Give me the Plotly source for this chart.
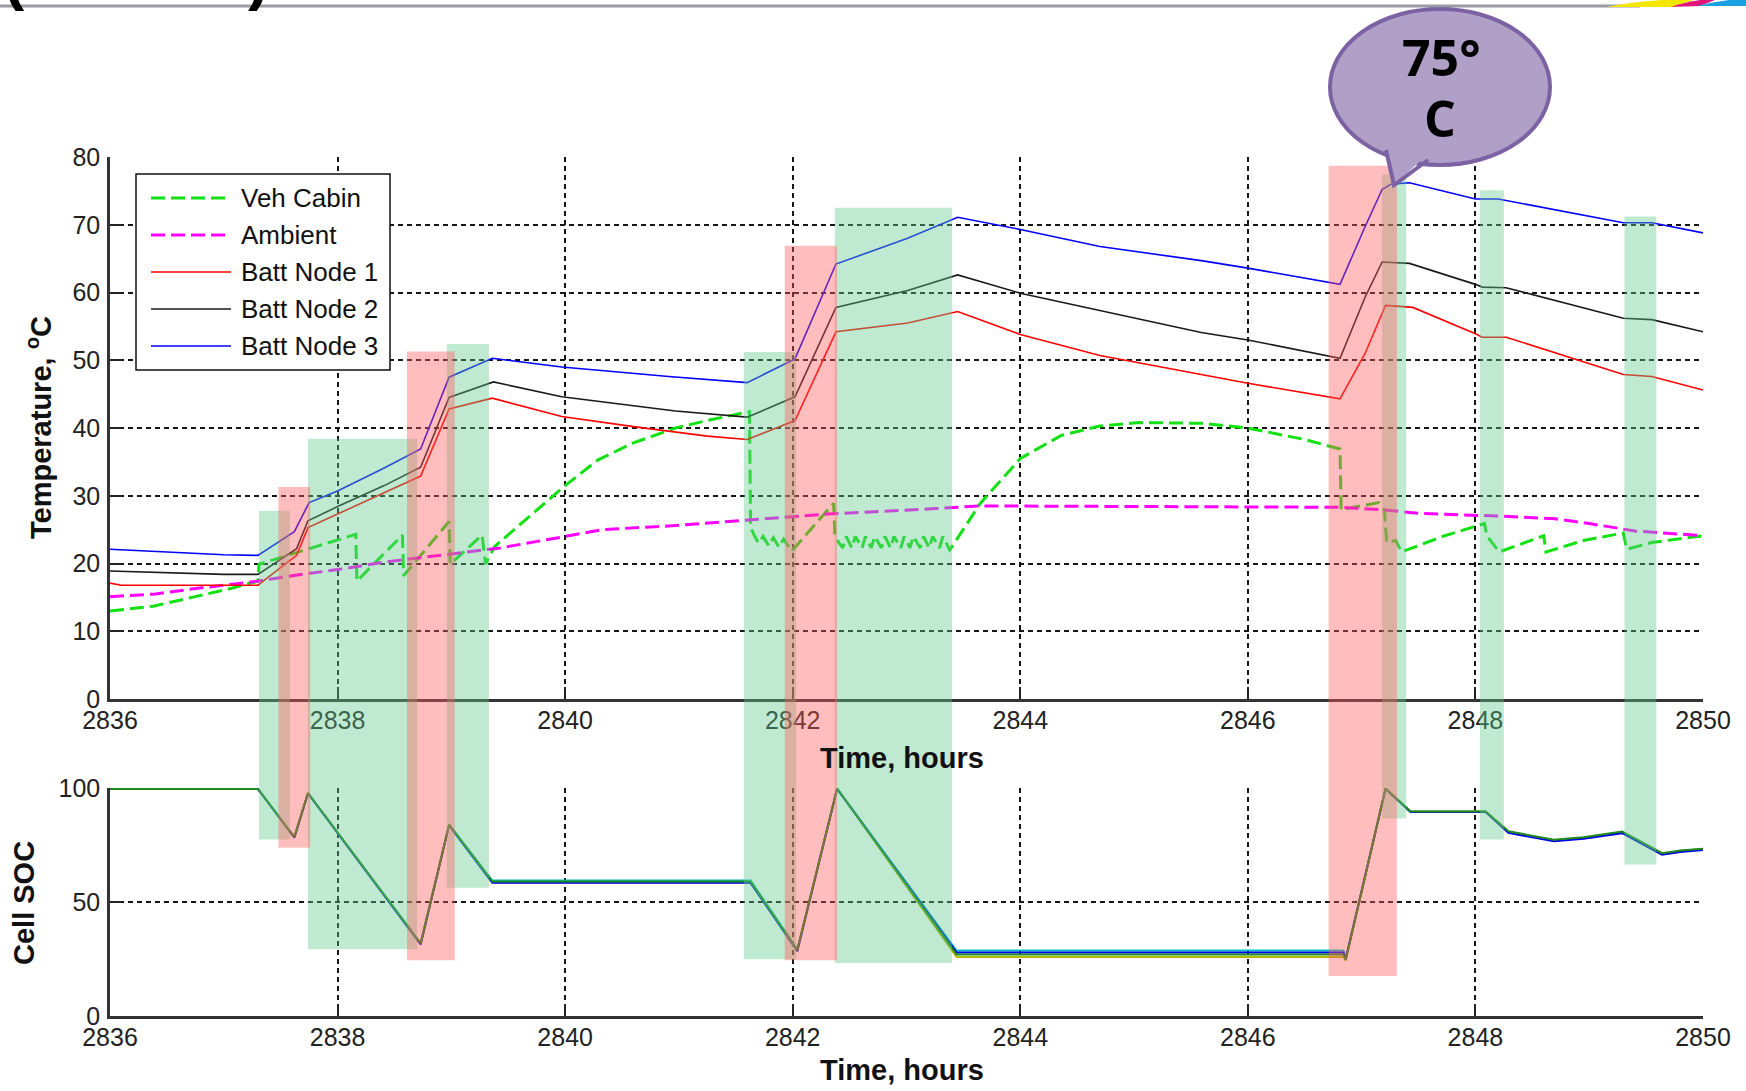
import plotly.graph_objects as go

# ---------------- data ----------------
x_ticks = [2836, 2838, 2840, 2842, 2844, 2846, 2848, 2850]
temp_ticks = [0, 10, 20, 30, 40, 50, 60, 70, 80]
soc_ticks = [0, 50, 100]

series_names = ["Veh Cabin", "Ambient", "Batt Node 1", "Batt Node 2", "Batt Node 3"]

cabin_t = [2836.0, 2836.38, 2836.72, 2837.06, 2837.30, 2837.31, 2838.16, 2838.17, 2838.57, 2838.58,
           2838.98, 2838.99, 2839.27, 2839.30, 2839.38, 2839.69, 2840.0, 2840.29, 2840.6, 2840.97,
           2841.3, 2841.62, 2841.63, 2841.66, 2841.70, 2841.74, 2841.79, 2841.83, 2841.88, 2841.92,
           2841.99, 2842.36, 2842.37, 2842.40, 2842.44, 2842.47, 2842.52, 2842.55, 2842.61, 2842.64,
           2842.69, 2842.72, 2842.78, 2842.81, 2842.86, 2842.89, 2842.95, 2842.98, 2843.03, 2843.06,
           2843.12, 2843.15, 2843.20, 2843.23, 2843.29, 2843.32, 2843.38, 2843.65, 2844.0, 2844.36,
           2844.70, 2845.04, 2845.59, 2846.0, 2846.5, 2846.81, 2846.82, 2846.93, 2847.15, 2847.20,
           2847.22, 2847.30, 2847.35, 2847.73, 2848.08, 2848.10, 2848.21, 2848.60, 2848.62, 2848.95,
           2849.30, 2849.33, 2849.55, 2850.0]
cabin_v = [13.0, 13.7, 15.0, 16.3, 17.4, 19.9, 24.3, 17.4, 24.2, 18.2,
           26.2, 19.9, 24.2, 19.9, 22.5, 27.0, 31.5, 35.3, 37.8, 40.0,
           41.3, 42.4, 25.4, 24.2, 23.0, 24.0, 22.6, 23.8, 22.4, 23.6,
           21.8, 28.9, 24.4, 23.2, 22.3, 24.0, 22.3, 24.0, 22.3, 24.0,
           22.3, 24.0, 22.3, 24.0, 22.3, 24.0, 22.3, 24.0, 22.3, 24.0,
           22.3, 24.0, 22.3, 24.0, 22.3, 24.0, 22.0, 28.9, 35.5, 38.9,
           40.3, 40.8, 40.7, 40.0, 38.3, 36.9, 27.9, 28.3, 29.0, 27.9,
           23.1, 23.4, 21.7, 24.1, 25.9, 24.1, 21.7, 24.1, 21.7, 23.4,
           24.5, 22.1, 23.1, 24.1]

ambient_t = [2836.0, 2836.4, 2836.75, 2837.1, 2837.3, 2837.6, 2838.0, 2838.41, 2838.75, 2839.09,
             2839.43, 2839.97, 2840.33, 2840.97, 2841.6, 2842.3, 2843.25, 2843.65, 2846.8, 2847.2,
             2847.5, 2848.2, 2848.7, 2849.0, 2849.4, 2850.0]
ambient_v = [15.1, 15.5, 16.3, 17.0, 17.4, 18.2, 19.1, 20.2, 20.9, 21.5,
             22.3, 23.9, 25.0, 25.6, 26.4, 27.3, 28.1, 28.5, 28.3, 27.9,
             27.4, 27.0, 26.6, 25.9, 24.8, 24.1]

node1_t = [2836.0, 2836.1, 2837.0, 2837.30, 2837.64, 2837.74, 2838.0, 2838.41, 2838.73, 2838.98,
           2839.36, 2839.97, 2840.6, 2841.25, 2841.60, 2842.02, 2842.38, 2843.01, 2843.45, 2844.0,
           2844.70, 2845.59, 2846.0, 2846.81, 2847.03, 2847.21, 2847.45, 2848.0, 2848.06, 2848.27,
           2849.30, 2849.55, 2850.0]
node1_v = [17.1, 16.8, 16.8, 16.8, 21.2, 25.3, 27.3, 30.4, 32.9, 42.8,
           44.4, 41.7, 40.2, 38.8, 38.3, 41.1, 54.2, 55.5, 57.2, 53.8,
           50.7, 47.9, 46.6, 44.3, 51.0, 58.1, 57.8, 53.9, 53.4, 53.4,
           47.9, 47.6, 45.6]

node2_t = [2836.0, 2836.5, 2837.0, 2837.30, 2837.64, 2837.74, 2838.0, 2838.41, 2838.73, 2838.98,
           2839.37, 2839.97, 2840.97, 2841.60, 2842.02, 2842.38, 2843.01, 2843.45, 2844.0, 2845.59,
           2846.0, 2846.81, 2847.03, 2847.18, 2847.42, 2848.0, 2848.06, 2848.27, 2849.30, 2849.55,
           2850.0]
node2_v = [18.9, 18.7, 18.4, 18.4, 22.2, 26.3, 28.4, 31.5, 34.2, 44.5,
           46.8, 44.6, 42.5, 41.6, 44.6, 57.8, 60.3, 62.6, 59.9, 54.1,
           53.0, 50.3, 59.3, 64.5, 64.3, 61.2, 60.8, 60.7, 56.2, 56.0,
           54.2]

node3_t = [2836.0, 2836.5, 2837.0, 2837.30, 2837.62, 2837.75, 2838.0, 2838.41, 2838.73, 2838.98,
           2839.36, 2839.97, 2840.91, 2841.60, 2842.02, 2842.38, 2843.01, 2843.45, 2844.0, 2844.70,
           2845.59, 2846.0, 2846.81, 2847.03, 2847.18, 2847.26, 2847.42, 2848.0, 2848.2, 2849.30,
           2849.55, 2850.0]
node3_v = [22.1, 21.7, 21.3, 21.2, 24.7, 29.0, 30.7, 34.1, 36.9, 47.5,
           50.3, 49.0, 47.6, 46.7, 50.2, 64.2, 68.0, 71.1, 69.3, 66.8,
           64.7, 63.6, 61.2, 69.7, 75.2, 76.0, 76.2, 73.8, 73.8, 70.3,
           70.3, 68.8]

soc_t = [2836.0, 2837.30, 2837.62, 2837.74, 2838.73, 2838.98, 2839.36, 2841.63, 2842.04, 2842.39,
         2843.44, 2846.84, 2846.86, 2847.21, 2847.43, 2848.09, 2848.29, 2848.45, 2848.69, 2848.95,
         2849.29, 2849.64, 2849.80, 2850.0]
soc_cyan = [99.6, 99.6, 78.6, 97.8, 32.0, 84.0, 59.4, 59.4, 29.2, 99.8,
            28.7, 28.7, 25.2, 99.8, 89.7, 89.7, 80.7, 79.3, 77.0, 78.1,
            80.6, 71.1, 72.3, 73.1]
soc_olive = [99.6, 99.6, 78.5, 97.8, 31.6, 83.8, 58.7, 58.7, 28.6, 99.8,
             25.9, 25.9, 24.4, 99.8, 89.7, 89.7, 80.8, 79.4, 77.1, 78.2,
             80.7, 71.2, 72.4, 73.2]
soc_blue = [99.6, 99.6, 78.2, 97.6, 31.4, 83.6, 58.4, 58.4, 28.4, 99.6,
            27.9, 27.9, 25.0, 99.6, 89.5, 89.5, 80.3, 78.9, 76.6, 77.7,
            80.2, 70.7, 71.9, 72.8]
soc_green = [99.6, 99.6, 78.4, 97.8, 31.8, 83.9, 59.0, 59.0, 28.9, 99.8,
             27.0, 27.0, 24.6, 99.8, 89.7, 89.7, 81.0, 79.6, 77.3, 78.4,
             80.9, 71.4, 72.6, 73.4]

# highlighted periods (start h, end h, top temp, bottom SOC)
green_start = [2837.31, 2837.74, 2838.96, 2841.57, 2842.37, 2847.18, 2848.04, 2849.31]
green_end = [2837.58, 2838.70, 2839.33, 2842.03, 2843.40, 2847.39, 2848.25, 2849.59]
green_top = [27.8, 38.4, 52.4, 51.2, 72.5, 77.4, 75.1, 71.2]
green_bottom = [77.4, 29.3, 56.3, 24.9, 23.3, 86.6, 77.4, 66.5]
red_start = [2837.48, 2838.61, 2841.93, 2846.71]
red_end = [2837.76, 2839.03, 2842.39, 2847.31]
red_top = [31.3, 51.3, 66.9, 78.7]
red_bottom = [73.8, 24.5, 24.5, 17.5]

callout_text = ["75°", "C"]

# ---------------- layout geometry ----------------
W, H = 1746, 1091
ML, MR, MT, MB = 110, 43, 0, 0
PW, PH = W - ML - MR, H - MT - MB
TOP_PX = (157, 699)      # y pixel of 80 and 0
BOT_PX = (788, 1016)     # y pixel of 100 and 0


def pxx(x):
    return (x - ML) / PW


def pxy(y):
    return 1 - (y - MT) / PH


top_dom = [pxy(TOP_PX[1]), pxy(TOP_PX[0])]
bot_dom = [pxy(BOT_PX[1]), pxy(BOT_PX[0])]
T_RANGE = [0, 80]
S_RANGE = [0, 100]


def temp_to_paper(v):
    return top_dom[0] + (v - T_RANGE[0]) / (T_RANGE[1] - T_RANGE[0]) * (top_dom[1] - top_dom[0])


def soc_to_paper(v):
    return bot_dom[0] + (v - S_RANGE[0]) / (S_RANGE[1] - S_RANGE[0]) * (bot_dom[1] - bot_dom[0])


TICK_FONT = dict(family="Liberation Sans Narrow, Liberation Sans, Arial", size=25, color="#222222")
TITLE_FONT = dict(family="Liberation Sans, Arial", size=29, color="#111111")
LEG_FONT = dict(family="Liberation Sans, Arial", size=26, color="#111111")

styles = {
    "Veh Cabin": dict(color="#11e011", width=3, dash="14px,6px"),
    "Ambient": dict(color="#ff00ff", width=3, dash="14px,6px"),
    "Batt Node 1": dict(color="#ff0000", width=1.6, dash="solid"),
    "Batt Node 2": dict(color="#1a1a1a", width=1.6, dash="solid"),
    "Batt Node 3": dict(color="#0000ff", width=1.6, dash="solid"),
}

fig = go.Figure()

temp_series = [(cabin_t, cabin_v), (ambient_t, ambient_v), (node1_t, node1_v),
               (node2_t, node2_v), (node3_t, node3_v)]
for name, (t, v) in zip(series_names, temp_series):
    fig.add_trace(go.Scatter(x=t, y=v, mode="lines", name=name, line=styles[name],
                             xaxis="x", yaxis="y", showlegend=False))

soc_series = [(soc_cyan, "#00c0c0"), (soc_olive, "#b8b800"), (soc_blue, "#0000ee"), (soc_green, "#1f8a1f")]
for vals, col in soc_series:
    fig.add_trace(go.Scatter(x=soc_t, y=vals, mode="lines", line=dict(color=col, width=2),
                             xaxis="x2", yaxis="y2", showlegend=False))

axis_common = dict(
    showgrid=True, gridcolor="#151515", gridwidth=1.6, griddash="5px,4px",
    showline=True, linecolor="#333333", linewidth=2.5,
    ticks="inside", ticklen=12, tickcolor="#222222", tickwidth=1.5,
    tickfont=TICK_FONT, zeroline=False, mirror=False,
)

fig.update_layout(
    width=W, height=H,
    margin=dict(l=ML, r=MR, t=MT, b=MB, autoexpand=False),
    paper_bgcolor="white", plot_bgcolor="white",
    showlegend=False,
    xaxis=dict(domain=[0, 1], anchor="y", range=[2836, 2850], tickvals=x_ticks,
               ticklabelstandoff=-3, **axis_common),
    yaxis=dict(domain=top_dom, anchor="x", range=T_RANGE, tickvals=temp_ticks,
               ticklabelstandoff=2, **axis_common),
    xaxis2=dict(domain=[0, 1], anchor="y2", range=[2836, 2850], tickvals=x_ticks,
                ticklabelstandoff=-3, **axis_common),
    yaxis2=dict(domain=bot_dom, anchor="x2", range=S_RANGE, tickvals=soc_ticks,
                ticklabelstandoff=2, **axis_common),
)

shapes = []
# highlighted periods, spanning from the temperature plot down into the SOC plot
for s, e, tp, bt in zip(green_start, green_end, green_top, green_bottom):
    shapes.append(dict(type="rect", xref="x", yref="paper", x0=s, x1=e,
                       y0=soc_to_paper(bt), y1=temp_to_paper(tp),
                       fillcolor="rgba(97,200,140,0.40)", line=dict(width=0), layer="above"))
for s, e, tp, bt in zip(red_start, red_end, red_top, red_bottom):
    shapes.append(dict(type="rect", xref="x", yref="paper", x0=s, x1=e,
                       y0=soc_to_paper(bt), y1=temp_to_paper(tp),
                       fillcolor="rgba(255,90,90,0.40)", line=dict(width=0), layer="above"))

# manual legend box
LEG_BOX = (136, 174, 390, 370)
shapes.append(dict(type="rect", xref="paper", yref="paper",
                   x0=pxx(LEG_BOX[0]), x1=pxx(LEG_BOX[2]), y0=pxy(LEG_BOX[3]), y1=pxy(LEG_BOX[1]),
                   fillcolor="white", line=dict(color="#111111", width=1.5), layer="above"))
leg_rows = [198, 235, 272, 309, 346]
annotations = []
for name, ry in zip(series_names, leg_rows):
    st = styles[name]
    shapes.append(dict(type="line", xref="paper", yref="paper", x0=pxx(151), x1=pxx(231),
                       y0=pxy(ry), y1=pxy(ry),
                       line=dict(color=st["color"], width=st["width"], dash=st["dash"]), layer="above"))
    annotations.append(dict(text=name, xref="paper", yref="paper", x=pxx(239), y=pxy(ry),
                            xanchor="left", yanchor="middle", showarrow=False, font=LEG_FONT))

# top slide line and logo fragment
shapes.append(dict(type="line", xref="paper", yref="paper", x0=pxx(0), x1=pxx(1640),
                   y0=pxy(6), y1=pxy(6), line=dict(color="#9a9aa2", width=3), layer="above"))
shapes.append(dict(type="path", xref="paper", yref="paper",
                   path=f"M{pxx(1607)},{pxy(7)} Q{pxx(1640)},{pxy(0)} {pxx(1700)},{pxy(-2)} "
                        f"L{pxx(1672)},{pxy(7)} Z",
                   fillcolor="#f5e600", line=dict(width=0), layer="above"))
shapes.append(dict(type="path", xref="paper", yref="paper",
                   path=f"M{pxx(1671)},{pxy(7)} Q{pxx(1690)},{pxy(0)} {pxx(1720)},{pxy(-2)} "
                        f"L{pxx(1700)},{pxy(6)} Z",
                   fillcolor="#e0157a", line=dict(width=0), layer="above"))
shapes.append(dict(type="path", xref="paper", yref="paper",
                   path=f"M{pxx(1697)},{pxy(6)} Q{pxx(1720)},{pxy(0)} {pxx(1750)},{pxy(-2)} "
                        f"L{pxx(1750)},{pxy(6)} Z",
                   fillcolor="#1aa0e0", line=dict(width=0), layer="above"))

# callout bubble
CX, CY, RX, RY = 1440, 87, 110, 78
BUB_FILL = "#b0a0c8"
BUB_LINE = "#7d62a3"
shapes.append(dict(type="circle", xref="paper", yref="paper",
                   x0=pxx(CX - RX), x1=pxx(CX + RX), y0=pxy(CY + RY), y1=pxy(CY - RY),
                   fillcolor=BUB_FILL, line=dict(color=BUB_LINE, width=4), layer="above"))
tail_a, tail_tip, tail_b = (1386, 150), (1394, 185), (1428, 160)
shapes.append(dict(type="path", xref="paper", yref="paper",
                   path=f"M{pxx(tail_a[0])},{pxy(tail_a[1] - 6)} L{pxx(tail_tip[0])},{pxy(tail_tip[1])} "
                        f"L{pxx(tail_b[0])},{pxy(tail_b[1] - 6)} Z",
                   fillcolor=BUB_FILL, line=dict(width=0), layer="above"))
shapes.append(dict(type="path", xref="paper", yref="paper",
                   path=f"M{pxx(tail_a[0])},{pxy(tail_a[1])} L{pxx(tail_tip[0])},{pxy(tail_tip[1])} "
                        f"L{pxx(tail_b[0])},{pxy(tail_b[1])}",
                   line=dict(color=BUB_LINE, width=4), layer="above"))
fig.update_layout(shapes=shapes)

BUB_FONT = dict(family="Open Sans, Noto Sans, Liberation Sans", size=50, color="black")
annotations.append(dict(text=f"<b>{callout_text[0]}</b>", xref="paper", yref="paper",
                        x=pxx(1441), y=pxy(57), showarrow=False, font=BUB_FONT,
                        xanchor="center", yanchor="middle"))
annotations.append(dict(text=f"<b>{callout_text[1]}</b>", xref="paper", yref="paper",
                        x=pxx(1440), y=pxy(118), showarrow=False, font=BUB_FONT,
                        xanchor="center", yanchor="middle"))

# axis titles
annotations.append(dict(text="<b>Time, hours</b>", xref="paper", yref="paper", x=pxx(902), y=pxy(758),
                        showarrow=False, font=TITLE_FONT, xanchor="center", yanchor="middle"))
annotations.append(dict(text="<b>Time, hours</b>", xref="paper", yref="paper", x=pxx(902), y=pxy(1070),
                        showarrow=False, font=TITLE_FONT, xanchor="center", yanchor="middle"))
annotations.append(dict(text="<b>Temperature, <sup>o</sup>C</b>", xref="paper", yref="paper",
                        x=pxx(39), y=pxy(428), textangle=-90, showarrow=False, font=TITLE_FONT,
                        xanchor="center", yanchor="middle"))
annotations.append(dict(text="<b>Cell SOC</b>", xref="paper", yref="paper",
                        x=pxx(24), y=pxy(903), textangle=-90, showarrow=False, font=TITLE_FONT,
                        xanchor="center", yanchor="middle"))

# clipped heading fragments at the very top of the slide
HEAD_FONT = dict(family="Liberation Sans, Arial", size=64, color="black")
annotations.append(dict(text="<b>(</b>", xref="paper", yref="paper", x=pxx(14), y=pxy(14),
                        showarrow=False, font=HEAD_FONT, xanchor="center", yanchor="bottom"))
annotations.append(dict(text="<b>)</b>", xref="paper", yref="paper", x=pxx(258), y=pxy(14),
                        showarrow=False, font=HEAD_FONT, xanchor="center", yanchor="bottom"))

fig.update_layout(annotations=annotations)

fig.write_html("out.html", config={"displayModeBar": False},
               post_script="document.body.style.margin='0px';")
